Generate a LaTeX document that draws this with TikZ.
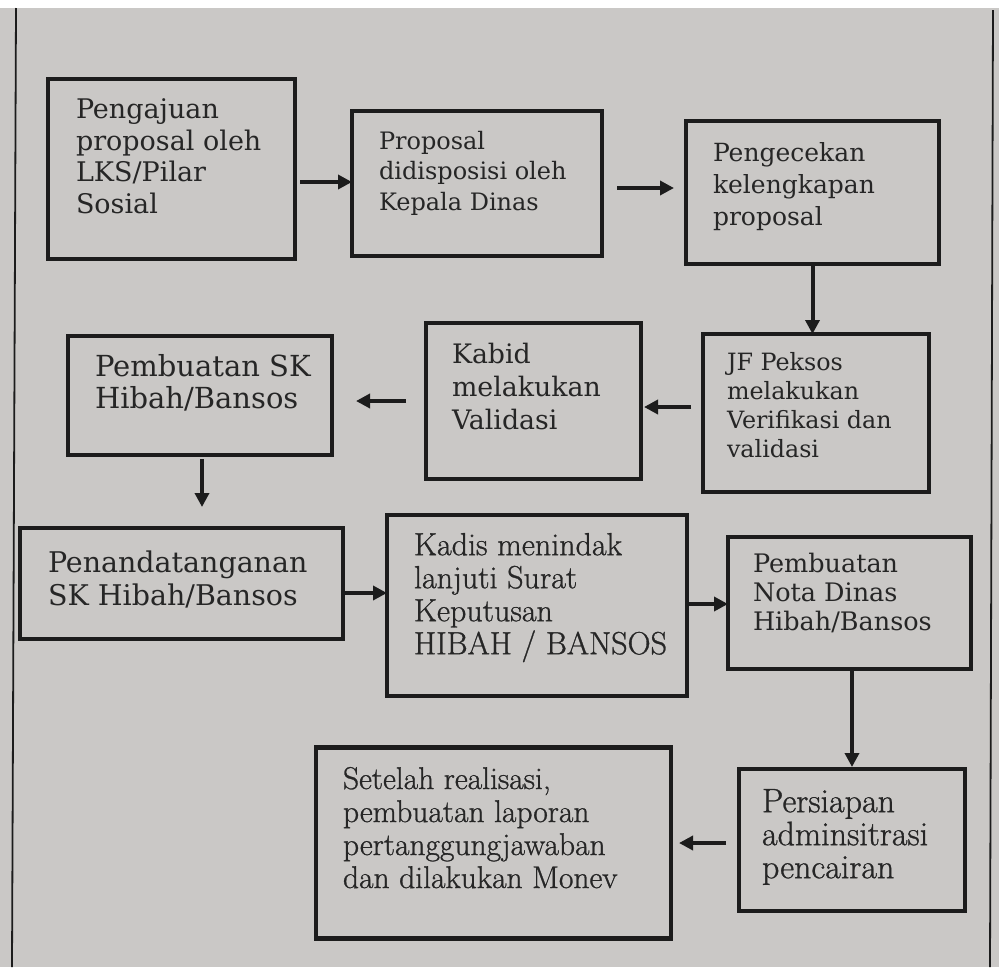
\documentclass[tikz,border=0pt]{standalone}
\usepackage{fontspec}
\newfontfamily\dv{DejaVu Serif}
\newfontfamily\lm{Latin Modern Roman}[FakeBold=0.9]
\usetikzlibrary{arrows.meta}
\definecolor{paper}{RGB}{202,200,198}
\definecolor{ink}{RGB}{28,28,28}
\definecolor{txt}{RGB}{38,38,38}
\begin{document}
\begin{tikzpicture}[x=1pt,y=-1pt,
  box/.style={draw=ink,line width=4.5pt,inner sep=0pt,outer sep=0pt},
  lbl/.style={anchor=north west,inner sep=0pt,outer sep=0pt,align=left,text=txt},
  arr/.style={draw=ink,line width=4pt,-{Triangle[length=14pt,width=14pt]}},
  frame/.style={draw=ink,line width=1.8pt}]
\useasboundingbox (0,0) rectangle (999,967);
\fill[paper] (0,0) rectangle (999,967);
\fill[white] (0,0) rectangle (999,8);
\coordinate (ftl) at (16,8);
\coordinate (fbl) at (12,967);
\coordinate (ftr) at (993,10);
\coordinate (fbr) at (990,967);
\draw[frame] (ftl) -- (fbl);
\draw[frame] (ftr) -- (fbr);

% boxes
\node[box,minimum width=247pt,minimum height=180pt] (b1) at (171.5,169) {};
\node[box,minimum width=250pt,minimum height=145pt] (b2) at (477,183.5) {};
\node[box,minimum width=253pt,minimum height=143pt] (b3) at (812.5,192.5) {};
\node[box,minimum width=226pt,minimum height=158pt] (b4) at (816,413) {};
\node[box,minimum width=215pt,minimum height=156pt] (b5) at (533.5,401) {};
\node[box,minimum width=264pt,minimum height=119pt] (b6) at (200,395.5) {};
\node[box,minimum width=323pt,minimum height=111pt] (b7) at (181.5,583.5) {};
\node[box,minimum width=300pt,minimum height=181pt] (b8) at (537,605.5) {};
\node[box,minimum width=243pt,minimum height=132pt] (b9) at (849.5,603) {};
\node[box,minimum width=226pt,minimum height=142pt] (b10) at (852,840) {};
\node[box,minimum width=355pt,minimum height=191pt] (b11) at (493.5,843) {};

% texts
\node[lbl,font=\dv\fontsize{27}{31.5}\selectfont] (t1) at (76,99) {Pengajuan\\proposal oleh\\LKS/Pilar\\Sosial};
\node[lbl,font=\dv\fontsize{24}{30.5}\selectfont] (t2) at (379,131) {Proposal\\didisposisi oleh\\Kepala Dinas};
\node[lbl,font=\dv\fontsize{25}{32.5}\selectfont] (t3) at (713,142) {Pengecekan\\kelengkapan\\proposal};
\node[lbl,font=\dv\fontsize{23.8}{29}\selectfont] (t4) at (727,352.6) {JF Peksos\\melakukan\\Verifikasi dan\\validasi};
\node[lbl,font=\dv\fontsize{26.8}{33}\selectfont] (t5) at (452,343.4) {Kabid\\melakukan\\Validasi};
\node[lbl,font=\dv\fontsize{29}{32}\selectfont] (t6) at (95,354) {Pembuatan SK\\Hibah/Bansos};
\node[lbl,font=\dv\fontsize{28.5}{33}\selectfont] (t7) at (48,551) {Penandatanganan\\SK Hibah/Bansos};
\node[lbl,font=\lm\fontsize{32}{33}\selectfont] (t8) at (414,533) {Kadis menindak\\lanjuti Surat\\Keputusan\\HIBAH / BANSOS};
\node[lbl,font=\dv\fontsize{25.5}{29}\selectfont] (t9) at (753,553.4) {Pembuatan\\Nota Dinas\\Hibah/Bansos};
\node[lbl,font=\lm\fontsize{34}{33}\selectfont] (t10) at (762,789) {Persiapan\\adminsitrasi\\pencairan};
\node[lbl,font=\lm\fontsize{31.5}{33}\selectfont] (t11) at (343,767) {Setelah realisasi,\\pembuatan laporan\\pertanggungjawaban\\dan dilakukan Monev};

% arrow levels
\coordinate (y182) at (0,182);
\coordinate (y188) at (0,188);
\coordinate (y407) at (0,407);
\coordinate (y401) at (0,401);
\coordinate (y593) at (0,593);
\coordinate (y604) at (0,604);
\coordinate (y843) at (0,843);
\coordinate (x202) at (202,0);

\draw[arr,shorten <=5pt] (b1.east |- y182) -- (b2.west |- y182);
\draw[arr,shorten <=15pt,shorten >=12pt] (b2.east |- y188) -- (b3.west |- y188);
\draw[arr,shorten <=2pt] (b3.south) -- (b3.south |- b4.north);
\draw[arr,shorten <=12pt,shorten >=3pt] (b4.west |- y407) -- (b5.east |- y407);
\draw[arr,shorten <=20pt,shorten >=24pt] (b5.west |- y401) -- (b6.east |- y401);
\draw[arr,shorten <=4pt,shorten >=21pt] (x202 |- b6.south) -- (x202 |- b7.north);
\draw[arr,shorten <=2pt] (b7.east |- y593) -- (b8.west |- y593);
\draw[arr,shorten <=2pt] (b8.east |- y604) -- (b9.west |- y604);
\draw[arr,shorten <=2pt,shorten >=2pt] (b9.south -| b10.north) -- (b10.north);
\draw[arr,shorten <=13pt,shorten >=8pt] (b10.west |- y843) -- (b11.east |- y843);
\end{tikzpicture}
\end{document}
